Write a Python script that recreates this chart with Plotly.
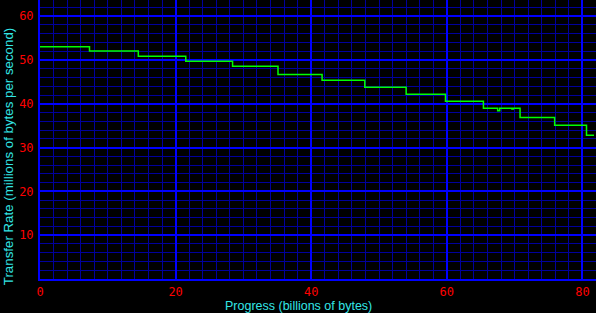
import plotly.graph_objects as go

# Step profile of transfer rate
progress_gb = [0, 7.3, 14.5, 21.5, 28.4, 35.1, 41.6, 47.9, 54.0, 59.8, 65.4,
               67.5, 67.8, 69.6, 69.8, 70.8, 75.9, 80.6, 81.7]
rate_mbps = [53.0, 52.05, 50.85, 49.7, 48.6, 46.7, 45.4, 43.8, 42.2, 40.6, 39.0,
             38.4, 39.0, 38.8, 39.0, 36.9, 35.1, 32.8, 32.8]

x_ticks = [0, 20, 40, 60, 80]
y_ticks = [10, 20, 30, 40, 50, 60]

x_title = "Progress (billions of bytes)"
y_title = "Transfer Rate (millions of bytes per second)"

W, H = 596, 313
ML, MR, MT, MB = 40, 0, 0, 34
pw, ph = W - ML - MR, H - MT - MB

fig = go.Figure()
fig.add_trace(go.Scatter(
    x=progress_gb, y=rate_mbps, mode="lines", line_shape="hv",
    line=dict(color="#00FF00", width=1.5), hoverinfo="skip", showlegend=False,
))

tick_font = dict(family="DejaVu Sans Mono", size=12, color="#FF0000")
major = "#0000FF"
minor = "#00009C"

fig.update_xaxes(
    range=[0, 82.0], tickvals=x_ticks, ticktext=[str(v) for v in x_ticks],
    showgrid=True, gridcolor=major, gridwidth=2,
    minor=dict(dtick=2, tick0=0, showgrid=True, gridcolor=minor, gridwidth=1),
    showline=True, linecolor=major, linewidth=2, zeroline=False,
    ticks="", tickfont=tick_font, ticklabelstandoff=1,
)
fig.update_yaxes(
    range=[0, 63.7], tickvals=y_ticks, ticktext=[str(v) for v in y_ticks],
    showgrid=True, gridcolor=major, gridwidth=2,
    minor=dict(dtick=2, tick0=0, showgrid=True, gridcolor=minor, gridwidth=1),
    showline=True, linecolor=major, linewidth=2, zeroline=False,
    ticks="", tickfont=tick_font, ticklabelstandoff=2,
)

fig.add_annotation(text=x_title, xref="paper", yref="paper",
                   x=(W / 2 - ML) / pw, y=(ph - 305.5 + MT) / ph,
                   xanchor="center", yanchor="middle", showarrow=False,
                   font=dict(family="Liberation Sans", size=12.5, color="#33E6E6"))
fig.add_annotation(text=y_title, xref="paper", yref="paper", textangle=-90,
                   x=(8.7 - ML) / pw, y=(ph - H / 2 + MT) / ph,
                   xanchor="center", yanchor="middle", showarrow=False,
                   font=dict(family="Liberation Sans", size=13.3, color="#33E6E6"))

fig.update_layout(
    width=W, height=H, margin=dict(l=ML, r=MR, t=MT, b=MB),
    paper_bgcolor="#000000", plot_bgcolor="#000000",
)
fig.write_html("out.html")
